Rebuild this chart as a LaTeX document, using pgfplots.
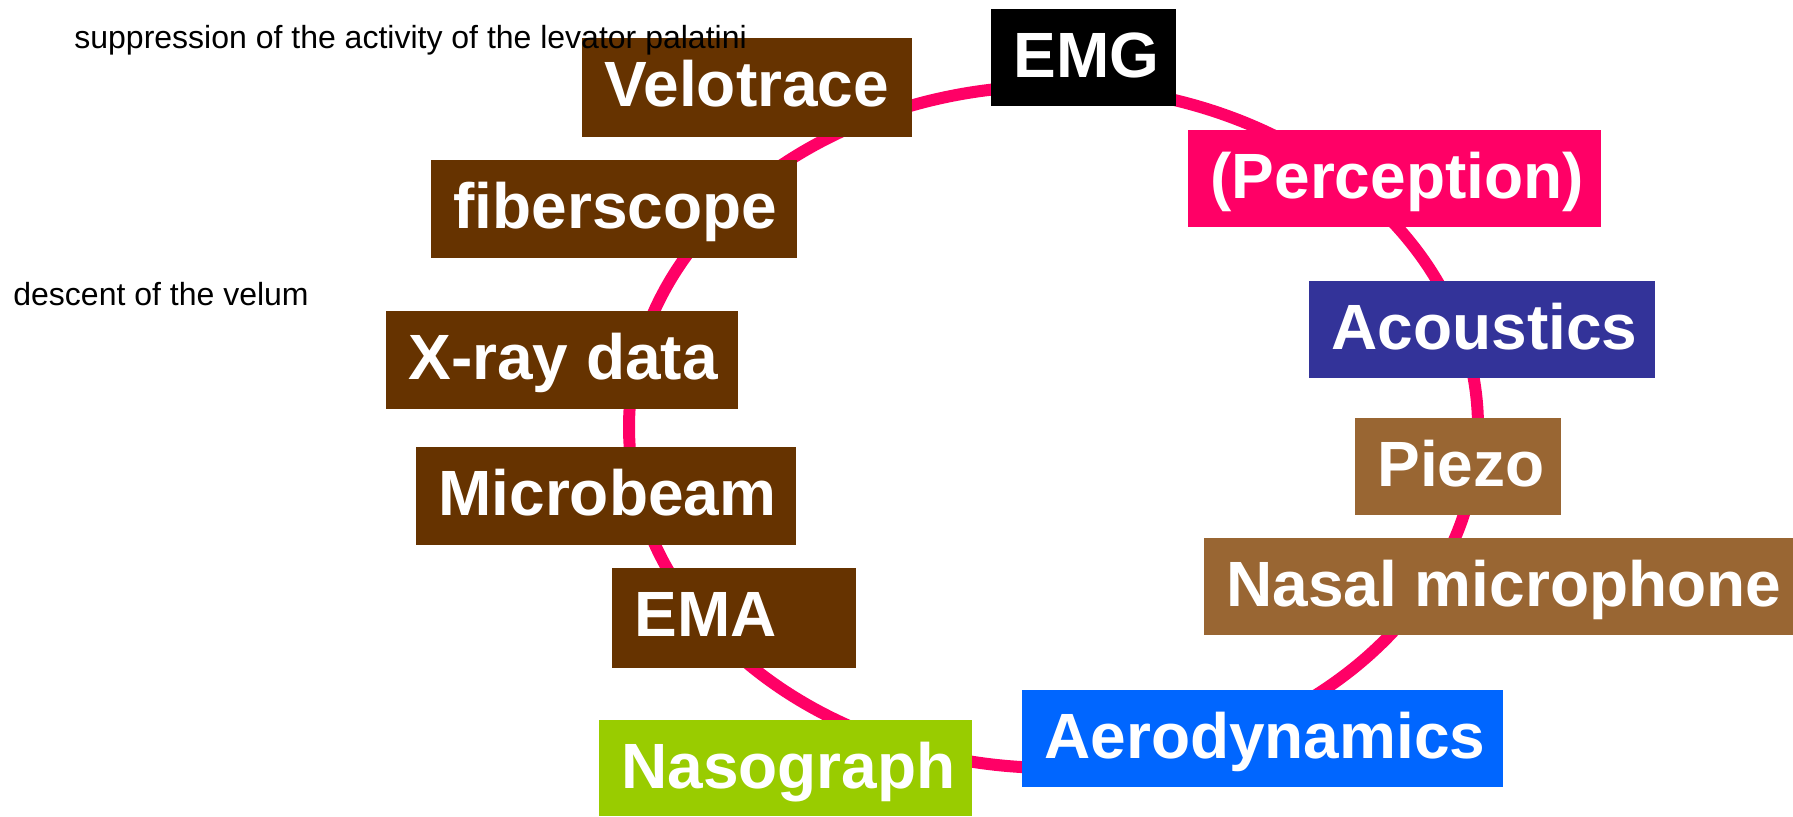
\documentclass[border=0pt]{standalone}
\usepackage{pgfplots}
\pgfplotsset{compat=1.18}
\usepackage{fontspec}
\setmainfont{Liberation Sans}
\definecolor{ringpink}{HTML}{FF0066}
\definecolor{darkbrown}{HTML}{663300}
\definecolor{lightbrown}{HTML}{996633}
\definecolor{navy}{HTML}{333399}
\definecolor{skyblue}{HTML}{0066FF}
\definecolor{lime}{HTML}{99CC00}

% box: colour, left, top, right, bottom, label  (pixel units, y downwards)
\newcommand{\labelbox}[6]{%
  \fill[#1] (axis cs:#2,#3) rectangle (axis cs:#4,#5);
  \node[anchor=base west, inner sep=0pt, text=white,
        font=\bfseries\fontsize{32}{38}\selectfont]
    at (axis cs:#2+22,#3+68) {#6};
}

\begin{document}
\begin{tikzpicture}
\begin{axis}[
    width=896.5pt,
    height=408pt,
    scale only axis,
    xmin=0, xmax=1793,
    ymin=0, ymax=816,
    y dir=reverse,
    hide axis,
    clip=false,
  ]

  % keep the full canvas in the bounding box
  \path (axis cs:0,0) rectangle (axis cs:1793,816);

  % ring
  \draw[ringpink, line width=6pt]
    (axis cs:1053.5,427) ellipse [x radius=424.5, y radius=341];

  % instrument boxes
  \labelbox{black}{991}{9}{1176}{106}{EMG}
  \labelbox{ringpink}{1188}{130}{1601}{227}{(Perception)}
  \labelbox{navy}{1309}{281}{1655}{378}{Acoustics}
  \labelbox{lightbrown}{1355}{418}{1561}{515}{Piezo}
  \labelbox{lightbrown}{1204}{538}{1793}{635}{Nasal microphone}
  \labelbox{skyblue}{1022}{690}{1503}{787}{Aerodynamics}
  \labelbox{lime}{599}{720}{972}{816}{Nasograph}
  \labelbox{darkbrown}{612}{568}{856}{668}{EMA}
  \labelbox{darkbrown}{416}{447}{796}{545}{Microbeam}
  \labelbox{darkbrown}{386}{311}{738}{409}{X-ray data}
  \labelbox{darkbrown}{431}{160}{797}{258}{fiberscope}
  \labelbox{darkbrown}{582}{38}{912}{137}{Velotrace}

  % side notes
  \node[anchor=base west, inner sep=0pt, font=\fontsize{16}{19}\selectfont]
    at (axis cs:74,48) {suppression of the activity of the levator palatini};
  \node[anchor=base west, inner sep=0pt, font=\fontsize{16}{19}\selectfont]
    at (axis cs:13,305) {descent of the velum};

\end{axis}
\end{tikzpicture}
\end{document}
